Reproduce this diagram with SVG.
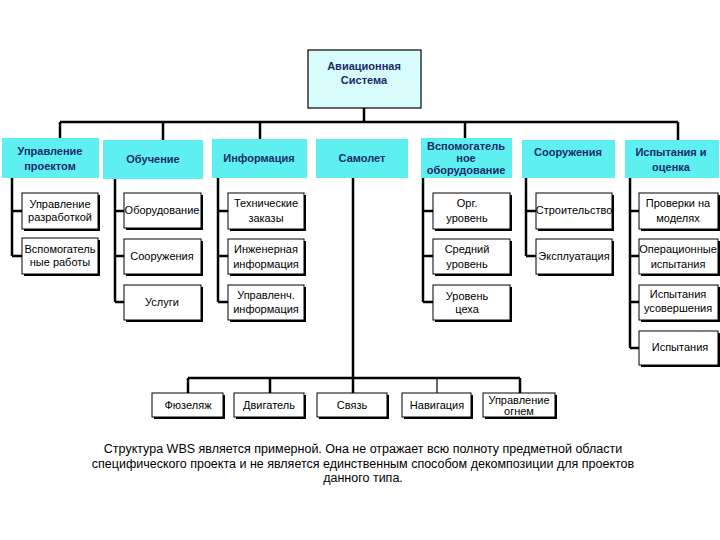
<svg xmlns="http://www.w3.org/2000/svg" width="720" height="540" viewBox="0 0 720 540">
<style>
.h{fill:#5ef0f0}
.b{fill:#fff;stroke:#000;stroke-width:1}
.s{fill:#000}
.t{font-family:"Liberation Sans",Arial,sans-serif;font-size:11px;fill:#000;text-anchor:middle}
.n{font-family:"Liberation Sans",Arial,sans-serif;font-size:12.5px;fill:#000;text-anchor:middle}
.ht{font-family:"Liberation Sans",Arial,sans-serif;font-size:11px;font-weight:bold;fill:#1a2a6a;text-anchor:middle}
.l{stroke:#000;stroke-width:2.5;fill:none}
.l1{stroke:#000;stroke-width:1.2;fill:none}
</style>
<rect width="720" height="540" fill="#fff"/>
<g id="connectors">
<path class="l" d="M364 108V122M60 122H678M60 122V138M163 122V140M260 122V139M465 122V138M678 122V140"/>
<path class="l" d="M12 178V256M12 211H22M12 256H22"/>
<path class="l" d="M115 179V302M115 211H124M115 256H124M115 302H124"/>
<path class="l" d="M218 178V302M218 211H228M218 256H228M218 302H228"/>
<path class="l" d="M423 178V302M423 211H433M423 256H433M423 302H433"/>
<path class="l" d="M526 178V256M526 211H536M526 256H536"/>
<path class="l" d="M630 178V348M630 211H639M630 256H639M630 302H639M630 348H639"/>
<path class="l" d="M353 178V393M188 378H520M188 378V393M270 378V393M520 378V393"/>
<path class="l1" d="M437 378V393"/>
</g>
<g id="root"><rect x="308" y="50" width="113" height="58" fill="#d8fcfc" stroke="#000" stroke-width="1.2"/>
<text class="ht" x="364" y="70">Авиационная</text><text class="ht" x="364" y="84">Система</text></g>
<g id="l1-1"><rect class="h" x="2" y="138" width="97" height="40"/><text class="ht" x="50" y="155">Управление</text><text class="ht" x="50" y="170">проектом</text></g>
<g id="l1-2"><rect class="h" x="103" y="140" width="100" height="39"/><text class="ht" x="153" y="163">Обучение</text></g>
<g id="l1-3"><rect class="h" x="212" y="139" width="95" height="39"/><text class="ht" x="259" y="162">Информация</text></g>
<g id="l1-4"><rect class="h" x="316" y="139" width="92" height="39"/><text class="ht" x="362" y="162">Самолет</text></g>
<g id="l1-5"><rect class="h" x="421" y="138" width="91" height="40"/><text class="ht" x="466" y="150">Вспомогатель</text><text class="ht" x="466" y="162">ное</text><text class="ht" x="466" y="174">оборудование</text></g>
<g id="l1-6"><rect class="h" x="522" y="140" width="93" height="38"/><text class="ht" x="568" y="156">Сооружения</text></g>
<g id="l1-7"><rect class="h" x="625" y="140" width="94" height="38"/><text class="ht" x="671" y="156">Испытания  и</text><text class="ht" x="671" y="171">оценка</text></g>
<g id="c1a"><rect class="s" x="24" y="195" width="76" height="36"/><rect class="b" x="22" y="193" width="76" height="36"/><text class="t" x="60" y="208">Управление</text><text class="t" x="60" y="221">разработкой</text></g>
<g id="c1b"><rect class="s" x="24" y="240" width="76" height="36"/><rect class="b" x="22" y="238" width="76" height="36"/><text class="t" x="60" y="253">Вспомогатель</text><text class="t" x="60" y="266">ные работы</text></g>
<g id="c2a"><rect class="s" x="126" y="195" width="77" height="35"/><rect class="b" x="124" y="193" width="77" height="35"/><text class="t" x="162" y="214">Оборудование</text></g>
<g id="c2b"><rect class="s" x="126" y="241" width="77" height="35"/><rect class="b" x="124" y="239" width="77" height="35"/><text class="t" x="162" y="260">Сооружения</text></g>
<g id="c2c"><rect class="s" x="126" y="287" width="77" height="35"/><rect class="b" x="124" y="285" width="77" height="35"/><text class="t" x="162" y="306">Услуги</text></g>
<g id="c3a"><rect class="s" x="230" y="195" width="76" height="36"/><rect class="b" x="228" y="193" width="76" height="36"/><text class="t" x="266" y="207">Технические</text><text class="t" x="266" y="222">заказы</text></g>
<g id="c3b"><rect class="s" x="230" y="241" width="76" height="35"/><rect class="b" x="228" y="239" width="76" height="35"/><text class="t" x="266" y="253">Инженерная</text><text class="t" x="266" y="268">информация</text></g>
<g id="c3c"><rect class="s" x="230" y="287" width="76" height="35"/><rect class="b" x="228" y="285" width="76" height="35"/><text class="t" x="266" y="299">Управленч.</text><text class="t" x="266" y="313">информация</text></g>
<g id="c5a"><rect class="s" x="435" y="195" width="77" height="36"/><rect class="b" x="433" y="193" width="77" height="36"/><text class="t" x="467" y="207">Орг.</text><text class="t" x="467" y="222">уровень</text></g>
<g id="c5b"><rect class="s" x="435" y="241" width="77" height="35"/><rect class="b" x="433" y="239" width="77" height="35"/><text class="t" x="467" y="253">Средний</text><text class="t" x="467" y="268">уровень</text></g>
<g id="c5c"><rect class="s" x="435" y="287" width="77" height="35"/><rect class="b" x="433" y="285" width="77" height="35"/><text class="t" x="467" y="300">Уровень</text><text class="t" x="467" y="313">цеха</text></g>
<g id="c6a"><rect class="s" x="538" y="195" width="76" height="36"/><rect class="b" x="536" y="193" width="76" height="36"/><text class="t" x="574" y="214">Строительство</text></g>
<g id="c6b"><rect class="s" x="538" y="241" width="76" height="35"/><rect class="b" x="536" y="239" width="76" height="35"/><text class="t" x="574" y="260">Эксплуатация</text></g>
<g id="c7a"><rect class="s" x="641" y="195" width="79" height="36"/><rect class="b" x="639" y="193" width="79" height="36"/><text class="t" x="678" y="207">Проверки на</text><text class="t" x="678" y="222">моделях</text></g>
<g id="c7b"><rect class="s" x="641" y="241" width="79" height="35"/><rect class="b" x="639" y="239" width="79" height="35"/><text class="t" x="678" y="253">Операционные</text><text class="t" x="678" y="268">испытания</text></g>
<g id="c7c"><rect class="s" x="641" y="287" width="79" height="35"/><rect class="b" x="639" y="285" width="79" height="35"/><text class="t" x="678" y="298">Испытания</text><text class="t" x="678" y="312">усовершения</text></g>
<g id="c7d"><rect class="s" x="641" y="333" width="79" height="34"/><rect class="b" x="639" y="331" width="79" height="34"/><text class="t" x="680" y="351">Испытания</text></g>
<g id="b1"><rect class="s" x="154" y="395" width="71" height="24"/><rect class="b" x="152" y="393" width="71" height="24"/><text class="t" x="188" y="409">Фюзеляж</text></g>
<g id="b2"><rect class="s" x="236" y="395" width="70" height="24"/><rect class="b" x="234" y="393" width="70" height="24"/><text class="t" x="269" y="409">Двигатель</text></g>
<g id="b3"><rect class="s" x="319" y="395" width="70" height="24"/><rect class="b" x="317" y="393" width="70" height="24"/><text class="t" x="352" y="409">Связь</text></g>
<g id="b4"><rect class="s" x="404" y="395" width="69" height="24"/><rect class="b" x="402" y="393" width="69" height="24"/><text class="t" x="437" y="409">Навигация</text></g>
<g id="b5"><rect class="s" x="485" y="395" width="72" height="24"/><rect class="b" x="483" y="393" width="72" height="24"/><text class="t" x="519" y="404">Управление</text><text class="t" x="519" y="415">огнем</text></g>
<g id="note" class="n"><text x="363" y="453">Структура WBS является примерной. Она не отражает всю полноту предметной области</text><text x="363" y="468">специфического проекта и не является единственным способом декомпозиции для проектов</text><text x="363" y="482">данного типа.</text></g>
</svg>
